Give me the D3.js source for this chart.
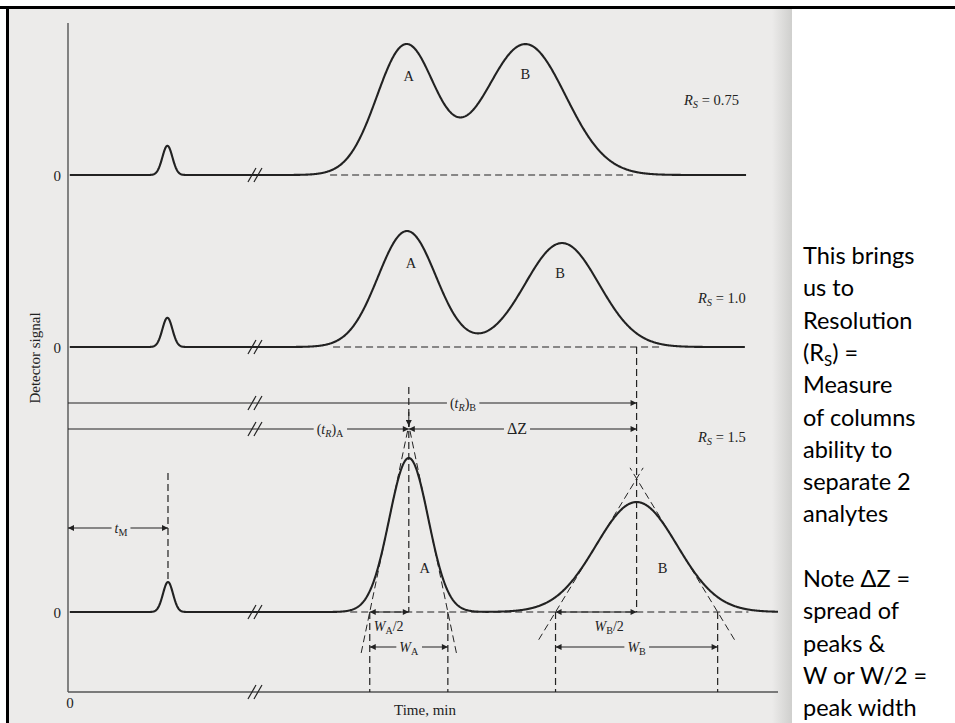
<!DOCTYPE html>
<html>
<head>
<meta charset="utf-8">
<script src="https://cdn.jsdelivr.net/npm/d3@7"></script>
<style>
  body { margin: 0; background: #ffffff; }
  svg { display: block; }
</style>
</head>
<body>
<script>
// ---- Chromatogram data -------------------------------------------------
// Three chromatograms of the same pair of solutes at increasing resolution.
// Time is in minutes along the drawn axis, signal is relative to the tallest peak.
const rsValues        = ["0.75", "1.0", "1.5"];
const deadTimeCenter  = [1.68, 1.68, 1.69];
const deadTimeSigma   = [0.085, 0.085, 0.085];
const deadTimeHeight  = [0.19, 0.19, 0.195];
const peakACenter     = [5.71, 5.73, 5.76];
const peakASigma      = [0.49, 0.49, 0.33];
const peakAHeight     = [0.84, 0.753, 1.0];
const peakBCenter     = [7.73, 8.35, 9.61];
const peakBSigma      = [0.68, 0.625, 0.685];
const peakBHeight     = [0.85, 0.675, 0.714];
const traceEnd        = [11.46, 11.44, 12.0];
const dashedBaseline  = [[4.43, 9.55], [4.48, 10.05], [4.77, 11.5]];
const timeBreak       = 3.16;
const peakNames       = ["A", "B"];

// Right-hand notes
const noteLines = [
  "This brings", "us to", "Resolution", "(R|S) =", "Measure", "of columns",
  "ability to", "separate 2", "analytes", "", "Note \u0394Z =", "spread of",
  "peaks &", "W or W/2 =", "peak width"
];

// ---- Layout -------------------------------------------------------------
const W = 955, H = 723;
const ink = "#222222";
const paper = "#ecebea";
const serif = "'Liberation Serif', 'DejaVu Serif', serif";

const svg = d3.select("body").append("svg")
  .attr("width", W).attr("height", H);

// scanned-page background and slide frame
const defs = svg.append("defs");
const edge = defs.append("linearGradient").attr("id", "edge")
  .attr("x1", 0).attr("x2", 1).attr("y1", 0).attr("y2", 0);
edge.append("stop").attr("offset", 0).attr("stop-color", paper);
edge.append("stop").attr("offset", 1).attr("stop-color", "#cfcfcd");

svg.append("rect").attr("x", 9).attr("y", 9).attr("width", 783).attr("height", H - 9)
  .attr("fill", paper);
svg.append("rect").attr("x", 772).attr("y", 9).attr("width", 20).attr("height", H - 9)
  .attr("fill", "url(#edge)");
svg.append("rect").attr("x", 0).attr("y", 6).attr("width", W).attr("height", 3).attr("fill", "#000");
svg.append("rect").attr("x", 6).attr("y", 6).attr("width", 3).attr("height", H - 6).attr("fill", "#000");

// arrowheads
defs.append("marker").attr("id", "arrow")
  .attr("viewBox", "0 0 10 10").attr("refX", 10).attr("refY", 5)
  .attr("markerWidth", 8).attr("markerHeight", 6)
  .attr("markerUnits", "userSpaceOnUse")
  .attr("orient", "auto-start-reverse")
  .append("path").attr("d", "M0,0 L10,5 L0,10 Z").attr("fill", ink);

// scales
const x = d3.scaleLinear().domain([0, 12]).range([68, 778]);
const baselines = [175, 347, 612];
const yScales = baselines.map(b => d3.scaleLinear().domain([0, 1]).range([b, b - 154]));
const axisBottomY = 692;

const gauss = (t, mu, s, h) => h * Math.exp(-((t - mu) ** 2) / (2 * s * s));
function signal(i, t) {
  return gauss(t, deadTimeCenter[i], deadTimeSigma[i], deadTimeHeight[i]) +
         gauss(t, peakACenter[i], peakASigma[i], peakAHeight[i]) +
         gauss(t, peakBCenter[i], peakBSigma[i], peakBHeight[i]);
}

const g = svg.append("g");

// axes
g.append("line").attr("x1", x(0)).attr("x2", x(0)).attr("y1", 23).attr("y2", axisBottomY)
  .attr("stroke", "#555").attr("stroke-width", 1.4);
g.append("line").attr("x1", x(0)).attr("x2", x(12)).attr("y1", axisBottomY).attr("y2", axisBottomY)
  .attr("stroke", "#555").attr("stroke-width", 1.4);

function dashed(x1, y1, x2, y2, w = 1.2) {
  g.append("line").attr("x1", x1).attr("y1", y1).attr("x2", x2).attr("y2", y2)
    .attr("stroke", ink).attr("stroke-width", w).attr("stroke-dasharray", "7,4");
}

// dashed baselines under the peaks
dashedBaseline.forEach((r, i) => dashed(x(r[0]), baselines[i], x(r[1]), baselines[i]));

// ---- Bottom chromatogram construction (tangents, widths) ----------------
const bi = 2;
const yb = yScales[bi];
const peaks = [
  { mu: peakACenter[bi], s: peakASigma[bi], h: peakAHeight[bi], below: 0.266, above: 0.05 },
  { mu: peakBCenter[bi], s: peakBSigma[bi], h: peakBHeight[bi], below: 0.18, above: 0.07 }
];
peaks.forEach(p => {
  const apex = 2 * p.h * Math.exp(-0.5);      // tangents meet here
  const half = 2 * p.s;                         // W/2
  const slope = apex / half;                    // signal per minute
  [-1, 1].forEach(side => {
    const tAt = v => p.mu + side * (half - v / slope);
    dashed(x(tAt(-p.below)), yb(-p.below), x(tAt(apex + p.above)), yb(apex + p.above), 1);
  });
  // base-width verticals down to the time axis
  dashed(x(p.mu - half), yb(0), x(p.mu - half), axisBottomY);
  dashed(x(p.mu + half), yb(0), x(p.mu + half), axisBottomY);
  p.apex = apex; p.half = half;
});

// retention-time verticals
dashed(x(peakACenter[bi]), 387, x(peakACenter[bi]), yb(0));
dashed(x(peakBCenter[bi]), baselines[1], x(peakBCenter[bi]), yb(0));
dashed(x(deadTimeCenter[bi]), 473, x(deadTimeCenter[bi]), yb(deadTimeHeight[bi]));

// ---- Traces ---------------------------------------------------------------
const line = d3.line().x(d => d[0]).y(d => d[1]);
rsValues.forEach((rs, i) => {
  const pts = d3.range(0.03, traceEnd[i] + 1e-9, 0.01).map(t => [x(t), yScales[i](signal(i, t))]);
  g.append("path").attr("d", line(pts)).attr("fill", "none")
    .attr("stroke", ink).attr("stroke-width", 2.1).attr("stroke-linejoin", "round");
});

// axis breaks
function breakMark(t, yy) {
  const cx = x(t);
  [-3, 3].forEach(o => {
    g.append("line").attr("x1", cx + o - 4).attr("y1", yy + 7).attr("x2", cx + o + 4).attr("y2", yy - 7)
      .attr("stroke", ink).attr("stroke-width", 1.2);
  });
}
[baselines[0], baselines[1], 403, 429, baselines[2], axisBottomY].forEach(yy => breakMark(timeBreak, yy));

// ---- Annotations ---------------------------------------------------------
function richText(parent, xx, yy, parts, size, anchor = "start") {
  const t = parent.append("text").attr("x", xx).attr("y", yy)
    .attr("font-family", serif).attr("font-size", size).attr("fill", ink)
    .attr("text-anchor", anchor);
  parts.forEach(p => {
    const ts = t.append("tspan").text(p.t);
    if (p.i) ts.attr("font-style", "italic");
    if (p.sub) ts.attr("font-size", size * 0.72).attr("baseline-shift", "-25%");
  });
  return t;
}
function arrow(x1, x2, yy, both, labelParts, labelX, size = 14) {
  const l = g.append("line").attr("x1", x1).attr("x2", x2).attr("y1", yy).attr("y2", yy)
    .attr("stroke", ink).attr("stroke-width", 1.1).attr("marker-end", "url(#arrow)");
  if (both) l.attr("marker-start", "url(#arrow)");
  if (labelParts) {
    const t = richText(g, labelX, yy + 4.5, labelParts, size, "middle");
    const bb = t.node().getBBox();
    g.insert("rect", "text:last-of-type")
      .attr("x", bb.x - 3).attr("y", yy - 2).attr("width", bb.width + 6).attr("height", 4)
      .attr("fill", paper);
    t.raise();
  }
}

const xA = x(peakACenter[bi]), xB = x(peakBCenter[bi]), xM = x(deadTimeCenter[bi]);
arrow(x(0), xB, 403, false, [{ t: "(" }, { t: "t", i: 1 }, { t: "R", i: 1, sub: 1 }, { t: ")" }, { t: "B", sub: 1 }], 463);
arrow(x(0), xA, 429, false, [{ t: "(" }, { t: "t", i: 1 }, { t: "R", i: 1, sub: 1 }, { t: ")" }, { t: "A", sub: 1 }], 330);
arrow(xA, xB, 429, true, [{ t: "\u0394Z" }], 517, 16);
arrow(x(0), xM, 528, true, [{ t: "t", i: 1 }, { t: "M", sub: 1 }], 121);

// small arrow pointing at peak A's apex construction
g.append("line").attr("x1", xA).attr("x2", xA).attr("y1", 412).attr("y2", 426)
  .attr("stroke", ink).attr("stroke-width", 1).attr("marker-end", "url(#arrow)");

const pA = peaks[0], pB = peaks[1];
arrow(x(pA.mu - pA.half), xA, yb(0), true, null);
arrow(x(pA.mu - pA.half), x(pA.mu + pA.half), 647, true,
  [{ t: "W", i: 1 }, { t: "A", sub: 1 }], x(pA.mu));
arrow(x(pB.mu - pB.half), xB, yb(0), true, null);
arrow(x(pB.mu - pB.half), x(pB.mu + pB.half), 647, true,
  [{ t: "W", i: 1 }, { t: "B", sub: 1 }], x(pB.mu));
richText(g, x(pA.mu - pA.half) + 4, 631, [{ t: "W", i: 1 }, { t: "A", sub: 1 }, { t: "/2" }], 14);
richText(g, x(pB.mu) - 42, 631, [{ t: "W", i: 1 }, { t: "B", sub: 1 }, { t: "/2" }], 14);

// peak labels
const labelOffsets = [
  [[3, 35], [0, 35]],
  [[4, 37], [-2, 35]],
  [[16, -39], [26, -39]]
];
rsValues.forEach((rs, i) => {
  const centers = [peakACenter[i], peakBCenter[i]];
  const heights = [peakAHeight[i], peakBHeight[i]];
  peakNames.forEach((n, k) => {
    const yy = i < 2 ? yScales[i](heights[k]) + labelOffsets[i][k][1] : baselines[i] + labelOffsets[i][k][1];
    g.append("text").attr("x", x(centers[k]) + labelOffsets[i][k][0]).attr("y", yy)
      .attr("text-anchor", "middle").attr("font-family", serif).attr("font-size", 14.5)
      .attr("fill", ink).text(n);
  });
});

// resolution labels
const rsPos = [[684, 105], [698, 303], [698, 442]];
rsValues.forEach((rs, i) => {
  richText(g, rsPos[i][0], rsPos[i][1],
    [{ t: "R", i: 1 }, { t: "S", i: 1, sub: 1 }, { t: " = " + rs }], 14.5);
});

// zero labels on each trace and on the time axis
baselines.forEach(b => {
  g.append("text").attr("x", 61).attr("y", b + 6).attr("text-anchor", "end")
    .attr("font-family", serif).attr("font-size", 15).attr("fill", ink).text("0");
});
g.append("text").attr("x", 70).attr("y", 708).attr("text-anchor", "middle")
  .attr("font-family", serif).attr("font-size", 15).attr("fill", ink).text("0");

// axis titles
g.append("text").attr("x", 425).attr("y", 715).attr("text-anchor", "middle")
  .attr("font-family", serif).attr("font-size", 15).attr("fill", ink).text("Time, min");
g.append("text").attr("transform", "translate(40,358) rotate(-90)").attr("text-anchor", "middle")
  .attr("font-family", serif).attr("font-size", 15).attr("fill", ink).text("Detector signal");

// ---- Notes on the right --------------------------------------------------
const notes = svg.append("text").attr("font-family", "Lato, 'Open Sans', sans-serif")
  .attr("font-size", 23.5).attr("fill", "#000");
noteLines.forEach((s, k) => {
  const yy = 264 + k * 32.3;
  const parts = s.split("|");
  if (parts.length === 1) {
    notes.append("tspan").attr("x", 803).attr("y", yy).text(s);
  } else {
    notes.append("tspan").attr("x", 803).attr("y", yy).text(parts[0]);
    notes.append("tspan").attr("font-size", 15).attr("dy", 5).text(parts[1].charAt(0));
    notes.append("tspan").attr("dy", -5).text(parts[1].slice(1));
  }
});
</script>
</body>
</html>
